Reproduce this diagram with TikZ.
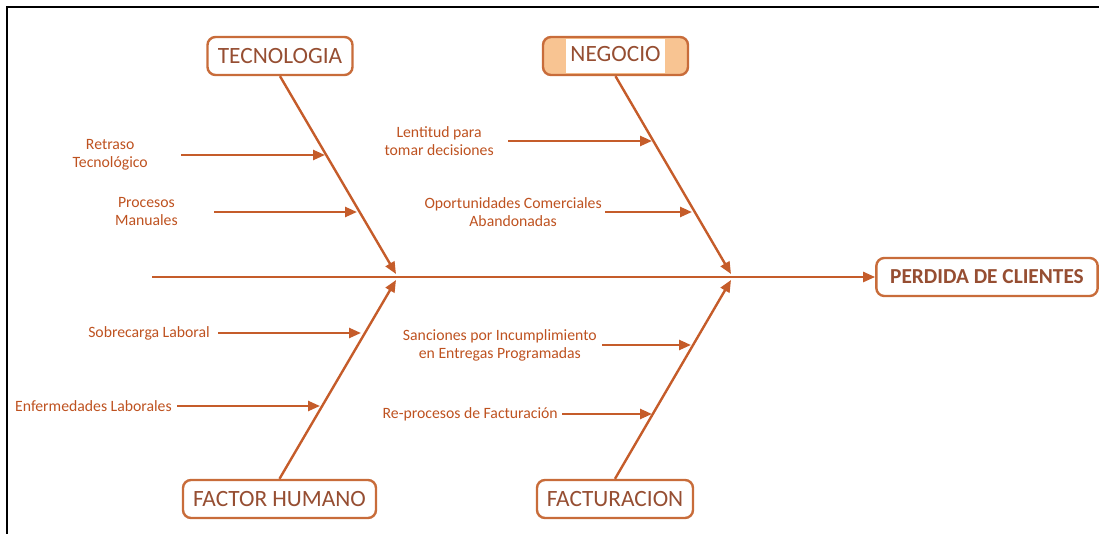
\documentclass[tikz,border=0pt]{standalone}
\usepackage{fontspec}
\setmainfont{Carlito}
\usetikzlibrary{arrows.meta,calc}
\definecolor{bone}{RGB}{197,92,42}
\definecolor{boxc}{RGB}{200,108,58}
\definecolor{boxtext}{RGB}{150,78,50}
\definecolor{lbltext}{RGB}{190,82,32}
\definecolor{negfill}{RGB}{248,196,146}
\begin{document}
\begin{tikzpicture}[x=0.75pt,y=-0.75pt,
  bonel/.style={draw=bone,line width=1.8pt,-{Triangle[length=9pt,width=7.5pt]}},
  cat/.style={draw=boxc,line width=1.8pt,rounded corners=6pt,fill=white,text=boxtext,
    font=\fontsize{17.5}{20}\selectfont,minimum height=28.5pt,inner sep=0pt},
  lbl/.style={text=lbltext,font=\fontsize{11.8}{13.5}\selectfont,align=center,inner sep=0pt,anchor=east}]
\useasboundingbox (0,0) rectangle (1099,534);
% frame
\draw[black,line width=2pt] (7,534) -- (7,7) -- (1099,7);

% category boxes
\node[cat,minimum width=108.75pt] (tec) at (280,56) {TECNOLOGIA};
\node[cat,minimum width=108.75pt,fill=negfill] (neg) at (615.5,56) {\colorbox{white}{\strut NEGOCIO}};
\node[cat,minimum width=144.75pt] (hum) at (279.5,499) {FACTOR HUMANO};
\node[cat,minimum width=117pt] (fac) at (615,499) {FACTURACION};
\node[cat,minimum width=166pt,font=\bfseries\fontsize{16}{20}\selectfont] (eff) at (987,277) {PERDIDA DE CLIENTES};

% spine
\coordinate (tail) at (152,277);
\draw[bonel] (tail) -- (eff.west);

% bone junctions
\coordinate (j1a) at (396,274);
\coordinate (j1b) at (396,280);
\coordinate (j2a) at (731,274);
\coordinate (j2b) at (731,280);
\draw[bonel] (tec.south) -- (j1a);
\draw[bonel] (hum.north) -- (j1b);
\draw[bonel] (neg.south) -- (j2a);
\draw[bonel] (fac.north) -- (j2b);

% causes
\node[lbl] (retraso) at (148,155) {Retraso\\Tecnológico};
\node[lbl] (procesos) at (178,212) {Procesos\\Manuales};
\node[lbl] (lentitud) at (494,141) {Lentitud para\\tomar decisiones};
\node[lbl] (oport) at (602,212) {Oportunidades Comerciales\\Abandonadas};
\node[lbl] (sobre) at (210,333) {Sobrecarga Laboral};
\node[lbl] (enfer) at (172,406) {Enfermedades Laborales};
\node[lbl] (sanc) at (597,345) {Sanciones por Incumplimiento\\en Entregas Programadas};
\node[lbl] (repro) at (558,414) {Re-procesos de Facturación};

\coordinate (t1) at (325,155);
\coordinate (t2) at (357,212);
\coordinate (t3) at (652,141);
\coordinate (t4) at (692,212);
\coordinate (t5) at (361,333);
\coordinate (t6) at (320,406);
\coordinate (t7) at (691,345);
\coordinate (t8) at (652,414);

\draw[bonel,shorten <=24.75pt] (retraso.east) -- (t1);
\draw[bonel,shorten <=27pt] (procesos.east) -- (t2);
\draw[bonel,shorten <=10.5pt] (lentitud.east) -- (t3);
\draw[bonel,shorten <=2.25pt] (oport.east) -- (t4);
\draw[bonel,shorten <=6pt] (sobre.east) -- (t5);
\draw[bonel,shorten <=3.75pt] (enfer.east) -- (t6);
\draw[bonel,shorten <=3.75pt] (sanc.east) -- (t7);
\draw[bonel,shorten <=3pt] (repro.east) -- (t8);
\end{tikzpicture}
\end{document}
